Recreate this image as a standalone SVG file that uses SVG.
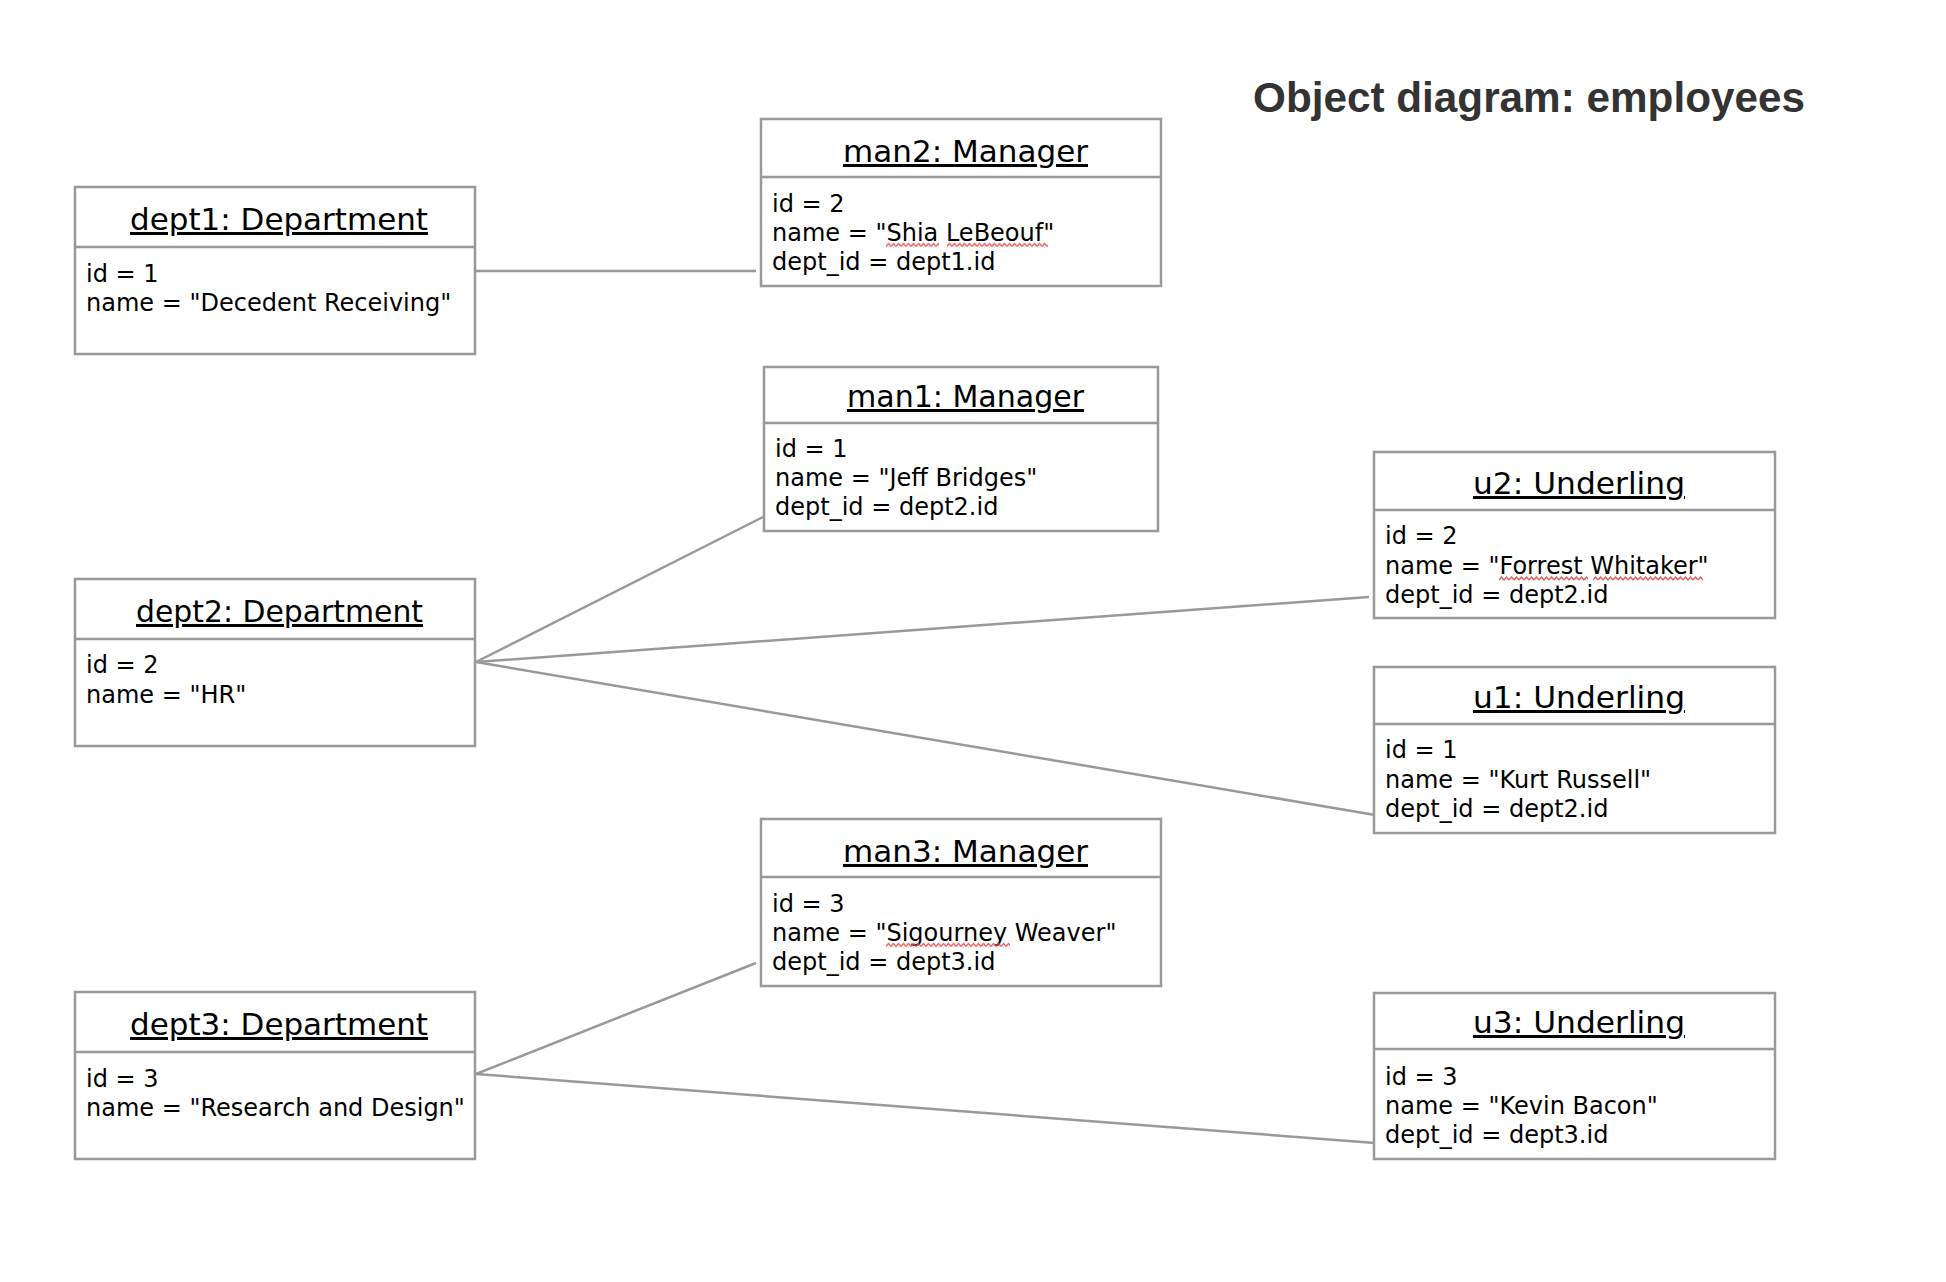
<svg xmlns="http://www.w3.org/2000/svg" width="1946" height="1282" viewBox="0 0 1946 1282">
  <defs>
    <style>
      .box { fill: #ffffff; stroke: #999999; stroke-width: 2.5; }
      .div { stroke: #999999; stroke-width: 2.5; }
      .hdr { font-family: "DejaVu Sans", Verdana, sans-serif; font-size: 30px; fill: #000000; text-decoration: underline; }
      .att { font-family: "DejaVu Sans", Verdana, sans-serif; font-size: 24px; fill: #000000; }
      .title { font-family: "Liberation Sans", Arial, sans-serif; font-size: 42px; font-weight: bold; fill: #333333; }
      .conn { stroke: #999999; stroke-width: 2.5; fill: none; }
    </style>
    <pattern id="squig" width="5" height="5" patternUnits="userSpaceOnUse">
      <path d="M0 4 L2.5 1 L5 4" fill="none" stroke="#e05050" stroke-width="1.2"/>
    </pattern>
  </defs>
  <rect width="1946" height="1282" fill="#ffffff"/>

  <text class="title" x="1253" y="112" textLength="552" lengthAdjust="spacingAndGlyphs">Object diagram: employees</text>

  <g id="connectors">
    <line class="conn" x1="476" y1="271" x2="756" y2="271"/>
    <line class="conn" x1="476" y1="662" x2="763" y2="517"/>
    <line class="conn" x1="476" y1="662" x2="1369" y2="597"/>
    <line class="conn" x1="476" y1="662" x2="1375" y2="815"/>
    <line class="conn" x1="476" y1="1074" x2="756" y2="963"/>
    <line class="conn" x1="476" y1="1074" x2="1375" y2="1143"/>
  </g>

  <g id="dept1">
    <rect class="box" x="75" y="187" width="400" height="167"/>
    <line class="div" x1="75" y1="247" x2="475" y2="247"/>
    <text class="hdr" x="130" y="230" textLength="298" lengthAdjust="spacingAndGlyphs">dept1: Department</text>
    <text class="att" x="86" y="282">id = 1</text>
    <text class="att" x="86" y="311">name = "Decedent Receiving"</text>
  </g>

  <g id="dept2">
    <rect class="box" x="75" y="579" width="400" height="167"/>
    <line class="div" x1="75" y1="639" x2="475" y2="639"/>
    <text class="hdr" x="136" y="622" textLength="287" lengthAdjust="spacingAndGlyphs">dept2: Department</text>
    <text class="att" x="86" y="673">id = 2</text>
    <text class="att" x="86" y="703">name = "HR"</text>
  </g>

  <g id="dept3">
    <rect class="box" x="75" y="992" width="400" height="167"/>
    <line class="div" x1="75" y1="1052" x2="475" y2="1052"/>
    <text class="hdr" x="130" y="1035" textLength="298" lengthAdjust="spacingAndGlyphs">dept3: Department</text>
    <text class="att" x="86" y="1087">id = 3</text>
    <text class="att" x="86" y="1116">name = "Research and Design"</text>
  </g>

  <g id="man2">
    <rect class="box" x="761" y="119" width="400" height="167"/>
    <line class="div" x1="761" y1="177" x2="1161" y2="177"/>
    <text class="hdr" x="843" y="162" textLength="245" lengthAdjust="spacingAndGlyphs">man2: Manager</text>
    <text class="att" x="772" y="212">id = 2</text>
    <text class="att" x="772" y="241">name = "Shia LeBeouf"</text>
    <text class="att" x="772" y="270">dept_id = dept1.id</text>
    <rect transform="translate(886,242.5)" width="53" height="5" fill="url(#squig)"/>
    <rect transform="translate(947,242.5)" width="101" height="5" fill="url(#squig)"/>
  </g>

  <g id="man1">
    <rect class="box" x="764" y="367" width="394" height="164"/>
    <line class="div" x1="764" y1="423" x2="1158" y2="423"/>
    <text class="hdr" x="847" y="407" textLength="237" lengthAdjust="spacingAndGlyphs">man1: Manager</text>
    <text class="att" x="775" y="457">id = 1</text>
    <text class="att" x="775" y="486">name = "Jeff Bridges"</text>
    <text class="att" x="775" y="515">dept_id = dept2.id</text>
  </g>

  <g id="man3">
    <rect class="box" x="761" y="819" width="400" height="167"/>
    <line class="div" x1="761" y1="877" x2="1161" y2="877"/>
    <text class="hdr" x="843" y="862" textLength="245" lengthAdjust="spacingAndGlyphs">man3: Manager</text>
    <text class="att" x="772" y="912">id = 3</text>
    <text class="att" x="772" y="941">name = "Sigourney Weaver"</text>
    <text class="att" x="772" y="970">dept_id = dept3.id</text>
    <rect transform="translate(886,942.5)" width="124" height="5" fill="url(#squig)"/>
  </g>

  <g id="u2">
    <rect class="box" x="1374" y="452" width="401" height="166"/>
    <line class="div" x1="1374" y1="510" x2="1775" y2="510"/>
    <text class="hdr" x="1473" y="494" textLength="212" lengthAdjust="spacingAndGlyphs">u2: Underling</text>
    <text class="att" x="1385" y="544">id = 2</text>
    <text class="att" x="1385" y="574">name = "Forrest Whitaker"</text>
    <text class="att" x="1385" y="603">dept_id = dept2.id</text>
    <rect transform="translate(1499,576)" width="89" height="5" fill="url(#squig)"/>
    <rect transform="translate(1593,576)" width="110" height="5" fill="url(#squig)"/>
  </g>

  <g id="u1">
    <rect class="box" x="1374" y="667" width="401" height="166"/>
    <line class="div" x1="1374" y1="724" x2="1775" y2="724"/>
    <text class="hdr" x="1473" y="708" textLength="212" lengthAdjust="spacingAndGlyphs">u1: Underling</text>
    <text class="att" x="1385" y="758">id = 1</text>
    <text class="att" x="1385" y="788">name = "Kurt Russell"</text>
    <text class="att" x="1385" y="817">dept_id = dept2.id</text>
  </g>

  <g id="u3">
    <rect class="box" x="1374" y="993" width="401" height="166"/>
    <line class="div" x1="1374" y1="1049" x2="1775" y2="1049"/>
    <text class="hdr" x="1473" y="1033" textLength="212" lengthAdjust="spacingAndGlyphs">u3: Underling</text>
    <text class="att" x="1385" y="1085">id = 3</text>
    <text class="att" x="1385" y="1114">name = "Kevin Bacon"</text>
    <text class="att" x="1385" y="1143">dept_id = dept3.id</text>
  </g>
</svg>
